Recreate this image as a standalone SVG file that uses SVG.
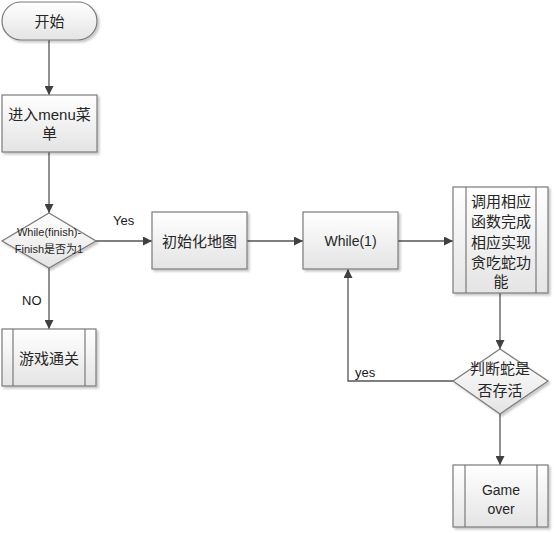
<svg xmlns="http://www.w3.org/2000/svg" width="554" height="533" viewBox="0 0 554 533">
<defs>
<linearGradient id="g" x1="0" y1="0" x2="0" y2="1">
<stop offset="0" stop-color="#ffffff"/>
<stop offset="1" stop-color="#e4e4e4"/>
</linearGradient>
<filter id="sh" x="-10%" y="-10%" width="130%" height="130%">
<feDropShadow dx="2" dy="2" stdDeviation="1.2" flood-color="#000" flood-opacity="0.22"/>
</filter>
<marker id="arr" viewBox="0 0 10 10" refX="10" refY="5" markerWidth="9" markerHeight="9" markerUnits="userSpaceOnUse" orient="auto">
<path d="M0,0 L10,5 L0,10 z" fill="#404040"/>
</marker>
</defs>
<style>
.shape{fill:url(#g);stroke:#7a7a7a;stroke-width:1.2;filter:url(#sh)}
.inner{stroke:#7a7a7a;stroke-width:1.2;fill:none}
.t{font-family:"Liberation Sans","Noto Sans CJK SC",sans-serif;font-size:15px;fill:#262626;text-anchor:middle;dominant-baseline:central}
.s{font-size:11px}
.lbl{font-family:"Liberation Sans","Noto Sans CJK SC",sans-serif;font-size:13px;fill:#1a1a1a}
.c{stroke:#555;stroke-width:1.3;fill:none;marker-end:url(#arr)}
</style>
<rect width="554" height="533" fill="#ffffff"/>
<g id="connectors">
<line class="c" x1="49" y1="40" x2="49" y2="95"/>
<line class="c" x1="49" y1="152" x2="49" y2="213"/>
<line class="c" x1="96" y1="241" x2="152" y2="241"/>
<line class="c" x1="49" y1="268" x2="49" y2="329"/>
<line class="c" x1="247" y1="241" x2="303" y2="241"/>
<line class="c" x1="398" y1="241" x2="453" y2="241"/>
<line class="c" x1="500" y1="293" x2="500" y2="349"/>
<polyline class="c" points="453,381 348,381 348,269"/>
<line class="c" x1="500" y1="414" x2="500" y2="465"/>
<text class="lbl" x="113" y="225">Yes</text>
<text class="lbl" x="22" y="305">NO</text>
<text class="lbl" x="355" y="377">yes</text>
</g>
<g id="start">
<rect class="shape" x="2" y="2" width="95" height="38" rx="19" ry="19"/>
<text class="t" x="49.5" y="21">开始</text>
</g>
<g id="menu">
<rect class="shape" x="2" y="95" width="95" height="57"/>
<text class="t" x="49.5" y="114">进入menu菜</text>
<text class="t" x="49.5" y="133">单</text>
</g>
<g id="cond">
<polygon class="shape" points="49,213 96,241 49,268 2,241"/>
<text class="t s" x="49" y="232">While(finish)-</text>
<text class="t s" x="49" y="249">Finish是否为1</text>
</g>
<g id="pass">
<rect class="shape" x="2" y="329" width="94" height="57"/>
<line class="inner" x1="13" y1="329" x2="13" y2="386"/>
<line class="inner" x1="85" y1="329" x2="85" y2="386"/>
<text class="t" x="49" y="358">游戏通关</text>
</g>
<g id="init">
<rect class="shape" x="152" y="212" width="95" height="57"/>
<text class="t" x="199.5" y="241">初始化地图</text>
</g>
<g id="loop">
<rect class="shape" x="303" y="212" width="95" height="57"/>
<text class="t" x="350.5" y="241" style="font-size:14px">While(1)</text>
</g>
<g id="call">
<rect class="shape" x="453" y="187" width="95" height="106"/>
<line class="inner" x1="466" y1="187" x2="466" y2="293"/>
<line class="inner" x1="536" y1="187" x2="536" y2="293"/>
<text class="t" x="501" y="201">调用相应</text>
<text class="t" x="501" y="221">函数完成</text>
<text class="t" x="501" y="242">相应实现</text>
<text class="t" x="501" y="262">贪吃蛇功</text>
<text class="t" x="501" y="281">能</text>
</g>
<g id="alive">
<polygon class="shape" points="500,349 548,381 500,414 453,381"/>
<text class="t" x="500" y="368">判断蛇是</text>
<text class="t" x="500" y="390">否存活</text>
</g>
<g id="gameover">
<rect class="shape" x="453" y="465" width="95" height="62"/>
<line class="inner" x1="465" y1="465" x2="465" y2="527"/>
<line class="inner" x1="537" y1="465" x2="537" y2="527"/>
<text class="t" x="501" y="490" style="font-size:14px">Game</text>
<text class="t" x="501" y="509" style="font-size:14px">over</text>
</g>
</svg>
